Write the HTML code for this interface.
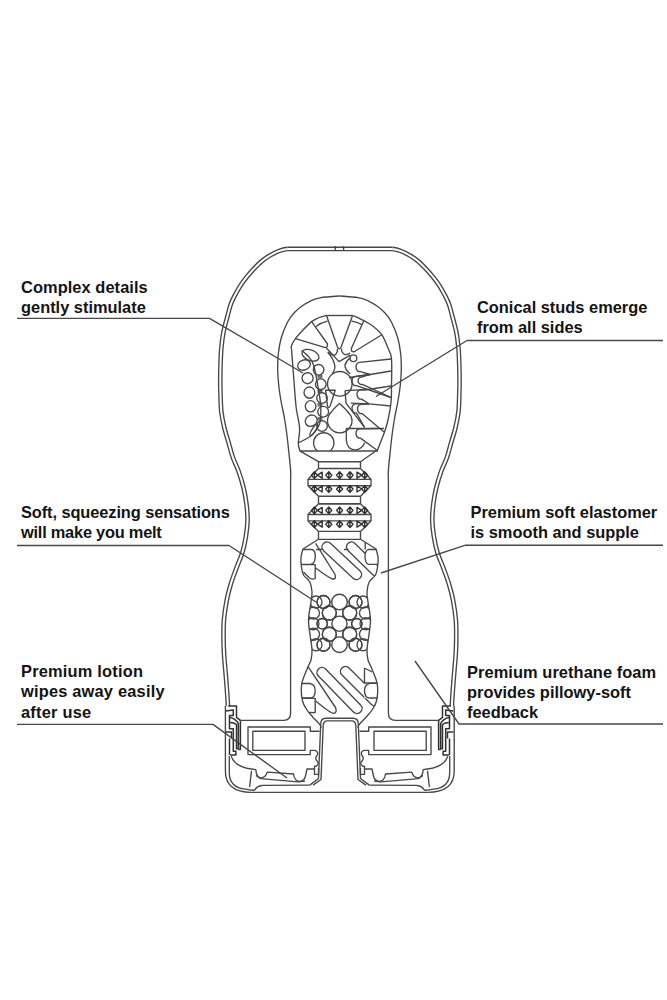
<!DOCTYPE html>
<html><head><meta charset="utf-8"><style>
html,body{margin:0;padding:0;background:#fff;width:667px;height:1000px;overflow:hidden}
svg{display:block}
path,circle,ellipse{fill:none;stroke:#474747;stroke-width:1.35;stroke-linejoin:round}
.st{stroke-width:1.4;stroke:#303030}
.cl{stroke-width:1.5;stroke:#303030}
.dk path{stroke:#474747;stroke-width:4.7}
.dw path{stroke:#fff;stroke-width:2.0}
text{font-family:"Liberation Sans",sans-serif;font-weight:bold;font-size:16.4px;fill:#141414}
</style></head><body>
<svg width="667" height="1000" viewBox="0 0 667 1000">
<defs><clipPath id="cu"><path d="M300,540 L365,540 L365,565 L378,565 L378,600 L300,600 Z"/></clipPath><clipPath id="cl"><path d="M300,660 L364.5,660 L364.5,698.3 L380,698.3 L380,720 L300,720 Z"/></clipPath><clipPath id="lc"><path d="M318.50,539.30 C315.92,540.92 305.92,546.05 303.00,549.00 C300.08,551.95 301.28,554.17 301.00,557.00 C300.72,559.83 300.88,563.00 301.30,566.00 C301.72,569.00 302.08,572.33 303.50,575.00 C304.92,577.67 308.38,579.17 309.80,582.00 C311.22,584.83 311.80,588.67 312.00,592.00 C312.20,595.33 311.58,597.33 311.00,602.00 C310.42,606.67 308.58,614.00 308.50,620.00 C308.42,626.00 309.92,633.00 310.50,638.00 C311.08,643.00 311.92,646.33 312.00,650.00 C312.08,653.67 311.75,657.00 311.00,660.00 C310.25,663.00 309.05,663.95 307.50,668.00 C305.95,672.05 302.55,678.88 301.70,684.30 C300.85,689.72 301.52,696.22 302.40,700.50 C303.28,704.78 305.32,707.30 307.00,710.00 C308.68,712.70 310.33,714.23 312.50,716.70 C314.67,719.17 318.58,722.92 320.00,724.80 C321.42,726.68 320.83,727.47 321.00,728.00 L358.00,728.00 L359.00,724.80 L366.50,716.70 L372.00,710.00 L376.60,700.50 L377.30,684.30 L371.50,668.00 L368.00,660.00 L367.00,650.00 L368.50,638.00 L370.50,620.00 L368.00,602.00 L367.00,592.00 L369.20,582.00 L375.50,575.00 L377.70,566.00 L378.00,557.00 L376.00,549.00 L360.50,539.30 Z"/></clipPath></defs>
<g class="dk"><path d="M287.27,248.94 C283.71,249.31 281.66,250.00 278.67,251.15 C275.68,252.30 272.27,254.06 269.35,255.81 C266.43,257.56 263.91,259.30 261.17,261.65 C258.43,264.00 255.47,267.16 252.91,269.92 C250.35,272.68 247.97,275.46 245.80,278.22 C243.63,280.98 241.87,283.32 239.90,286.47 C237.93,289.62 235.54,294.01 233.97,297.14 C232.40,300.27 231.57,301.93 230.46,305.23 C229.35,308.53 228.47,312.41 227.30,316.92 C226.13,321.43 224.41,327.11 223.42,332.31 C222.43,337.51 221.82,342.86 221.34,348.15 C220.86,353.44 220.73,358.75 220.55,364.06 C220.37,369.37 220.25,374.69 220.25,380.00 C220.25,385.31 220.37,390.64 220.55,395.94 C220.73,401.24 220.71,406.53 221.34,411.81 C221.97,417.09 223.05,422.33 224.31,427.62 C225.57,432.91 227.46,438.58 228.89,443.55 C230.31,448.52 231.23,452.80 232.86,457.45 C234.49,462.10 236.89,466.42 238.66,471.45 C240.43,476.48 242.20,482.22 243.50,487.61 C244.80,493.00 245.76,498.40 246.44,503.80 C247.12,509.20 247.64,514.62 247.55,520.03 C247.47,525.44 246.79,530.85 245.93,536.26 C245.07,541.67 243.99,547.09 242.38,552.47 C240.77,557.86 238.20,563.24 236.25,568.57 C234.30,573.90 232.27,579.18 230.68,584.47 C229.09,589.76 227.84,594.37 226.72,600.31 C225.60,606.25 224.47,613.86 223.94,620.14 C223.41,626.42 223.53,632.37 223.55,638.00 C223.57,643.63 223.75,648.60 224.05,653.91 C224.35,659.22 224.91,664.54 225.34,669.87 C225.77,675.20 226.25,680.54 226.65,685.88 C227.05,691.22 227.55,698.55 227.75,701.90 C227.95,705.25 227.83,705.28 227.85,705.96"/><path d="M392.53,248.94 C396.08,249.31 398.14,250.00 401.13,251.15 C404.12,252.30 407.53,254.06 410.45,255.81 C413.37,257.56 415.89,259.30 418.63,261.65 C421.37,264.00 424.33,267.16 426.89,269.92 C429.45,272.68 431.83,275.46 434.00,278.22 C436.17,280.98 437.93,283.32 439.90,286.47 C441.87,289.62 444.26,294.01 445.83,297.14 C447.40,300.27 448.23,301.93 449.34,305.23 C450.45,308.53 451.33,312.41 452.50,316.92 C453.67,321.43 455.39,327.11 456.38,332.31 C457.37,337.51 457.98,342.86 458.46,348.15 C458.94,353.44 459.07,358.75 459.25,364.06 C459.43,369.37 459.55,374.69 459.55,380.00 C459.55,385.31 459.43,390.64 459.25,395.94 C459.07,401.24 459.09,406.53 458.46,411.81 C457.83,417.09 456.75,422.33 455.49,427.62 C454.23,432.91 452.34,438.58 450.91,443.55 C449.49,448.52 448.57,452.80 446.94,457.45 C445.31,462.10 442.91,466.42 441.14,471.45 C439.37,476.48 437.60,482.22 436.30,487.61 C435.00,493.00 434.04,498.40 433.36,503.80 C432.69,509.20 432.17,514.62 432.25,520.03 C432.33,525.44 433.01,530.85 433.87,536.26 C434.73,541.67 435.81,547.09 437.42,552.47 C439.03,557.86 441.60,563.24 443.55,568.57 C445.50,573.90 447.53,579.18 449.12,584.47 C450.71,589.76 451.96,594.37 453.08,600.31 C454.20,606.25 455.33,613.86 455.86,620.14 C456.39,626.42 456.27,632.37 456.25,638.00 C456.23,643.63 456.05,648.60 455.75,653.91 C455.45,659.22 454.89,664.54 454.46,669.87 C454.03,675.20 453.55,680.54 453.15,685.88 C452.75,691.22 452.25,698.55 452.05,701.90 C451.85,705.25 451.97,705.28 451.95,705.96"/><path d="M287.27,248.95 L392.53,248.95"/></g><g class="dw"><path d="M287.27,248.94 C283.71,249.31 281.66,250.00 278.67,251.15 C275.68,252.30 272.27,254.06 269.35,255.81 C266.43,257.56 263.91,259.30 261.17,261.65 C258.43,264.00 255.47,267.16 252.91,269.92 C250.35,272.68 247.97,275.46 245.80,278.22 C243.63,280.98 241.87,283.32 239.90,286.47 C237.93,289.62 235.54,294.01 233.97,297.14 C232.40,300.27 231.57,301.93 230.46,305.23 C229.35,308.53 228.47,312.41 227.30,316.92 C226.13,321.43 224.41,327.11 223.42,332.31 C222.43,337.51 221.82,342.86 221.34,348.15 C220.86,353.44 220.73,358.75 220.55,364.06 C220.37,369.37 220.25,374.69 220.25,380.00 C220.25,385.31 220.37,390.64 220.55,395.94 C220.73,401.24 220.71,406.53 221.34,411.81 C221.97,417.09 223.05,422.33 224.31,427.62 C225.57,432.91 227.46,438.58 228.89,443.55 C230.31,448.52 231.23,452.80 232.86,457.45 C234.49,462.10 236.89,466.42 238.66,471.45 C240.43,476.48 242.20,482.22 243.50,487.61 C244.80,493.00 245.76,498.40 246.44,503.80 C247.12,509.20 247.64,514.62 247.55,520.03 C247.47,525.44 246.79,530.85 245.93,536.26 C245.07,541.67 243.99,547.09 242.38,552.47 C240.77,557.86 238.20,563.24 236.25,568.57 C234.30,573.90 232.27,579.18 230.68,584.47 C229.09,589.76 227.84,594.37 226.72,600.31 C225.60,606.25 224.47,613.86 223.94,620.14 C223.41,626.42 223.53,632.37 223.55,638.00 C223.57,643.63 223.75,648.60 224.05,653.91 C224.35,659.22 224.91,664.54 225.34,669.87 C225.77,675.20 226.25,680.54 226.65,685.88 C227.05,691.22 227.55,698.55 227.75,701.90 C227.95,705.25 227.83,705.28 227.85,705.96"/><path d="M392.53,248.94 C396.08,249.31 398.14,250.00 401.13,251.15 C404.12,252.30 407.53,254.06 410.45,255.81 C413.37,257.56 415.89,259.30 418.63,261.65 C421.37,264.00 424.33,267.16 426.89,269.92 C429.45,272.68 431.83,275.46 434.00,278.22 C436.17,280.98 437.93,283.32 439.90,286.47 C441.87,289.62 444.26,294.01 445.83,297.14 C447.40,300.27 448.23,301.93 449.34,305.23 C450.45,308.53 451.33,312.41 452.50,316.92 C453.67,321.43 455.39,327.11 456.38,332.31 C457.37,337.51 457.98,342.86 458.46,348.15 C458.94,353.44 459.07,358.75 459.25,364.06 C459.43,369.37 459.55,374.69 459.55,380.00 C459.55,385.31 459.43,390.64 459.25,395.94 C459.07,401.24 459.09,406.53 458.46,411.81 C457.83,417.09 456.75,422.33 455.49,427.62 C454.23,432.91 452.34,438.58 450.91,443.55 C449.49,448.52 448.57,452.80 446.94,457.45 C445.31,462.10 442.91,466.42 441.14,471.45 C439.37,476.48 437.60,482.22 436.30,487.61 C435.00,493.00 434.04,498.40 433.36,503.80 C432.69,509.20 432.17,514.62 432.25,520.03 C432.33,525.44 433.01,530.85 433.87,536.26 C434.73,541.67 435.81,547.09 437.42,552.47 C439.03,557.86 441.60,563.24 443.55,568.57 C445.50,573.90 447.53,579.18 449.12,584.47 C450.71,589.76 451.96,594.37 453.08,600.31 C454.20,606.25 455.33,613.86 455.86,620.14 C456.39,626.42 456.27,632.37 456.25,638.00 C456.23,643.63 456.05,648.60 455.75,653.91 C455.45,659.22 454.89,664.54 454.46,669.87 C454.03,675.20 453.55,680.54 453.15,685.88 C452.75,691.22 452.25,698.55 452.05,701.90 C451.85,705.25 451.97,705.28 451.95,705.96"/><path d="M287.27,248.95 L392.53,248.95"/></g>
<path d="M335.3,246 L335.3,251 M343.6,246 L343.6,251"/>
<path d="M339.50,296.00 C335.33,296.27 324.92,296.92 320.00,297.80 C315.08,298.68 313.00,299.93 310.00,301.30 C307.00,302.67 304.67,304.05 302.00,306.00 C299.33,307.95 296.40,310.33 294.00,313.00 C291.60,315.67 289.73,317.83 287.60,322.00 C285.47,326.17 282.75,332.67 281.20,338.00 C279.65,343.33 278.88,348.67 278.30,354.00 C277.72,359.33 277.62,364.67 277.70,370.00 C277.78,375.33 278.22,380.67 278.80,386.00 C279.38,391.33 280.27,396.67 281.20,402.00 C282.13,407.33 283.47,412.67 284.40,418.00 C285.33,423.33 286.10,428.67 286.80,434.00 C287.50,439.33 287.97,444.00 288.60,450.00 C289.23,456.00 290.27,465.00 290.60,470.00 C290.93,475.00 290.60,478.33 290.60,480.00 L290.60,713 Q290.60,720.4 283.60,720.4 L240.4,720.4"/>
<path d="M339.50,296.00 C343.67,296.27 354.08,296.92 359.00,297.80 C363.92,298.68 366.00,299.93 369.00,301.30 C372.00,302.67 374.33,304.05 377.00,306.00 C379.67,307.95 382.60,310.33 385.00,313.00 C387.40,315.67 389.27,317.83 391.40,322.00 C393.53,326.17 396.25,332.67 397.80,338.00 C399.35,343.33 400.12,348.67 400.70,354.00 C401.28,359.33 401.38,364.67 401.30,370.00 C401.22,375.33 400.78,380.67 400.20,386.00 C399.62,391.33 398.73,396.67 397.80,402.00 C396.87,407.33 395.53,412.67 394.60,418.00 C393.67,423.33 392.90,428.67 392.20,434.00 C391.50,439.33 391.03,444.00 390.40,450.00 C389.77,456.00 388.73,465.00 388.40,470.00 C388.07,475.00 388.40,478.33 388.40,480.00 L388.40,713 Q388.40,720.4 395.40,720.4 L438.6,720.4"/>
<path d="M300.00,451.00 C299.72,449.77 298.37,447.43 298.30,443.60 C298.23,439.77 299.90,433.60 299.60,428.00 C299.30,422.40 297.27,415.50 296.50,410.00 C295.73,404.50 295.50,400.83 295.00,395.00 C294.50,389.17 294.07,382.50 293.50,375.00 C292.93,367.50 291.95,354.83 291.60,350.00 C291.25,345.17 290.77,347.88 291.40,346.00 C292.03,344.12 293.47,341.37 295.40,338.70 C297.33,336.03 300.30,332.85 303.00,330.00 C305.70,327.15 309.10,323.60 311.60,321.60 C314.10,319.60 315.52,319.02 318.00,318.00 C320.48,316.98 325.08,315.92 326.50,315.50"/>
<path d="M326.5,315.5 L352.6,315.5"/>
<path d="M352.60,315.50 C354.47,316.37 360.23,318.78 363.80,320.70 C367.37,322.62 371.00,324.67 374.00,327.00 C377.00,329.33 379.47,331.20 381.80,334.70 C384.13,338.20 386.38,343.95 388.00,348.00 C389.62,352.05 390.92,352.83 391.50,359.00 C392.08,365.17 391.57,377.92 391.50,385.00 C391.43,392.08 391.68,395.67 391.10,401.50 C390.52,407.33 389.10,414.92 388.00,420.00 C386.90,425.08 386.32,426.83 384.50,432.00 C382.68,437.17 378.33,447.83 377.10,451.00"/>
<path d="M300,451 L378,451"/>
<path d="M326.5,315.5 L337.3,346.5 Q339.3,351 341.3,346.5 L352.6,315.5"/>
<path d="M311.6,321.6 L327.2,343.5 Q328.5,347.8 324.5,347.3 L295.4,338.7"/>
<path d="M363.8,320.7 L351.3,348.5 Q351,353 355,351.3 L381.8,334.7"/>
<path d="M316.1,326.6 Q321,322.5 327.6,321.2"/>
<path d="M351.5,321.2 Q357,322 362,324.6"/>
<path d="M326.2,347.7 L339,361.6 L350.2,355.2"/>
<path d="M337.5,348.5 Q337.5,353.7 334.5,355.2 Q331,355.5 328.1,351.9"/>
<path d="M341.4,348.5 Q341.6,353 344.5,354.5 Q348,355 350.2,353"/>
<path d="M327.7,352.2 Q333,358 334.5,364.2 Q336,368 332.2,374"/>
<path d="M350.6,357.5 Q346,361 345,365 Q344.5,369 350.2,374"/>
<circle cx="353.4" cy="358.2" r="3.4"/>
<circle cx="339.8" cy="383.8" r="12.3"/>
<path d="M339.5,403.5 Q332,410 328.5,416 A12.2,12.2 0 1 0 351,416 Q347,410 339.5,403.5 Z"/>
<path d="M391.00,359.00 L359.50,362.40 C354.00,362.90 355.50,372.60 360.50,371.60 L370.20,374.50"/>
<path d="M349,377.5 L370.2,374.5 L391,371"/>
<path d="M370.20,374.50 L355.50,376.40 C350.00,376.90 351.50,386.60 356.50,385.60 L391.00,397.50"/>
<path d="M370.20,374.40 L361.50,377.20 C356.00,377.70 357.50,385.40 362.50,384.40 L391.00,397.50"/>
<path d="M345,390.6 L368,389.5 L391,386"/>
<path d="M368.00,389.50 L360.50,389.90 C355.00,390.40 356.50,400.10 361.50,399.10 L369.00,403.80"/>
<path d="M369,403.8 L391,406"/>
<path d="M350.7,403.2 L369,403.8"/>
<path d="M369.00,403.80 L355.50,403.90 C350.00,404.40 351.50,414.10 356.50,413.10 L364.50,427.40"/>
<path d="M369.00,403.80 L361.00,404.40 C355.50,404.90 357.00,414.60 362.00,413.60 L384.00,432.00"/>
<path d="M345,390.6 L346,403.2 L364.5,427.4"/>
<path d="M346.3,428.5 L384,428.5"/>
<path d="M378.00,428.50 L359.50,428.90 C354.00,429.40 355.50,439.10 360.50,438.10 L377.00,450.30"/>
<path d="M346.3,428.3 L346.3,440 Q347,449.5 355,449.8 Q362,449.5 364.7,442.7"/>
<path d="M317.5,451 A10.2,10.2 0 1 1 330,451"/>
<path d="M325.6,390.2 L335.2,390.2 L330,406.5 Q328.5,409 327.5,406 Z"/>
<path d="M301.60,350.60 C302.67,351.50 306.00,353.60 308.00,356.00 C310.00,358.40 311.87,359.50 313.60,365.00 C315.33,370.50 317.20,382.00 318.40,389.00 C319.60,396.00 320.60,401.22 320.80,407.00 C321.00,412.78 321.00,419.12 319.60,423.70 C318.20,428.28 314.83,431.87 312.40,434.50 C309.97,437.13 307.40,438.08 305.00,439.50 C302.60,440.92 299.17,442.42 298.00,443.00"/>
<ellipse cx="304.0" cy="365.0" rx="6.5" ry="5.0" transform="rotate(-20 304.0 365.0)"/>
<ellipse cx="307.6" cy="378.2" rx="5.5" ry="5.5" transform="rotate(0 307.6 378.2)"/>
<ellipse cx="309.4" cy="392.6" rx="5.4" ry="5.6" transform="rotate(0 309.4 392.6)"/>
<ellipse cx="310.6" cy="406.3" rx="5.3" ry="5.6" transform="rotate(0 310.6 406.3)"/>
<ellipse cx="311.2" cy="420.7" rx="6.2" ry="5.4" transform="rotate(-35 311.2 420.7)"/>
<ellipse cx="313.8" cy="430" rx="6.5" ry="1.8" transform="rotate(-58 313.8 430)"/>
<ellipse cx="310.5" cy="355.2" rx="9" ry="5.2" transform="rotate(22 310.5 355.2)"/>
<circle cx="318.6" cy="369.8" r="5.3"/>
<circle cx="320.8" cy="384.2" r="5.3"/>
<circle cx="322.0" cy="398.0" r="5.3"/>
<circle cx="323.2" cy="411.7" r="5.4"/>
<circle cx="322.0" cy="426.0" r="5.3"/>
<path d="M317.5,376.0 L322.5,376.0 M317.5,377.8 L322.5,377.8"/>
<path d="M317.5,390.2 L322.5,390.2 M317.5,392.0 L322.5,392.0"/>
<path d="M317.5,404.0 L322.5,404.0 M317.5,405.8 L322.5,405.8"/>
<path d="M317.5,418.0 L322.5,418.0 M317.5,419.8 L322.5,419.8"/>
<path d="M299.70,450.80 L318.50,461.70 L360.50,461.70 L376.20,450.80"/>
<path d="M318.50,461.70 L318.50,468.50"/><path d="M360.50,461.70 L360.50,468.50"/>
<path d="M318.50,468.50 L308.00,479.30 L308.00,485.70 L318.50,496.20"/><path d="M360.50,468.50 L371.00,479.30 L371.00,485.70 L360.50,496.20"/><path d="M318.50,468.50 L360.50,468.50"/><path d="M308.00,479.30 L371.00,479.30"/><path d="M308.00,485.70 L371.00,485.70"/><path d="M318.50,496.20 L360.50,496.20"/><path d="M311.4,475.2 L314.4,471.8 L317.4,475.2 L314.4,478.6 Z M314.4,471.8 L314.4,478.6" class="st"/><path d="M317.4,475.2 L322.2,472.2 L322.2,478.2 Z" class="st"/><path d="M325.8,475.2 L328.8,471.8 L331.8,475.2 L328.8,478.6 Z M328.8,471.8 L328.8,478.6" class="st"/><path d="M336.6,475.2 L339.6,471.8 L342.6,475.2 L339.6,478.6 Z M339.6,471.8 L339.6,478.6" class="st"/><path d="M347.0,475.2 L350.0,471.8 L353.0,475.2 L350.0,478.6 Z M350.0,471.8 L350.0,478.6" class="st"/><path d="M361.8,475.2 L357.0,472.2 L357.0,478.2 Z" class="st"/><path d="M361.7,475.2 L364.7,471.8 L367.7,475.2 L364.7,478.6 Z M364.7,471.8 L364.7,478.6" class="st"/><path d="M311.4,489.0 L314.4,485.6 L317.4,489.0 L314.4,492.4 Z M314.4,485.6 L314.4,492.4" class="st"/><path d="M317.4,489.0 L322.2,486.0 L322.2,492.0 Z" class="st"/><path d="M325.8,489.0 L328.8,485.6 L331.8,489.0 L328.8,492.4 Z M328.8,485.6 L328.8,492.4" class="st"/><path d="M336.6,489.0 L339.6,485.6 L342.6,489.0 L339.6,492.4 Z M339.6,485.6 L339.6,492.4" class="st"/><path d="M347.0,489.0 L350.0,485.6 L353.0,489.0 L350.0,492.4 Z M350.0,485.6 L350.0,492.4" class="st"/><path d="M361.8,489.0 L357.0,486.0 L357.0,492.0 Z" class="st"/><path d="M361.7,489.0 L364.7,485.6 L367.7,489.0 L364.7,492.4 Z M364.7,485.6 L364.7,492.4" class="st"/>
<path d="M318.50,496.20 L318.50,503.70"/><path d="M360.50,496.20 L360.50,503.70"/>
<path d="M318.50,503.70 L360.50,503.70"/>
<path d="M318.50,503.70 L308.00,514.50 L308.00,520.90 L318.50,531.40"/><path d="M360.50,503.70 L371.00,514.50 L371.00,520.90 L360.50,531.40"/><path d="M318.50,503.70 L360.50,503.70"/><path d="M308.00,514.50 L371.00,514.50"/><path d="M308.00,520.90 L371.00,520.90"/><path d="M318.50,531.40 L360.50,531.40"/><path d="M311.4,510.4 L314.4,507.0 L317.4,510.4 L314.4,513.8 Z M314.4,507.0 L314.4,513.8" class="st"/><path d="M317.4,510.4 L322.2,507.4 L322.2,513.4 Z" class="st"/><path d="M325.8,510.4 L328.8,507.0 L331.8,510.4 L328.8,513.8 Z M328.8,507.0 L328.8,513.8" class="st"/><path d="M336.6,510.4 L339.6,507.0 L342.6,510.4 L339.6,513.8 Z M339.6,507.0 L339.6,513.8" class="st"/><path d="M347.0,510.4 L350.0,507.0 L353.0,510.4 L350.0,513.8 Z M350.0,507.0 L350.0,513.8" class="st"/><path d="M361.8,510.4 L357.0,507.4 L357.0,513.4 Z" class="st"/><path d="M361.7,510.4 L364.7,507.0 L367.7,510.4 L364.7,513.8 Z M364.7,507.0 L364.7,513.8" class="st"/><path d="M311.4,524.2 L314.4,520.8 L317.4,524.2 L314.4,527.6 Z M314.4,520.8 L314.4,527.6" class="st"/><path d="M317.4,524.2 L322.2,521.2 L322.2,527.2 Z" class="st"/><path d="M325.8,524.2 L328.8,520.8 L331.8,524.2 L328.8,527.6 Z M328.8,520.8 L328.8,527.6" class="st"/><path d="M336.6,524.2 L339.6,520.8 L342.6,524.2 L339.6,527.6 Z M339.6,520.8 L339.6,527.6" class="st"/><path d="M347.0,524.2 L350.0,520.8 L353.0,524.2 L350.0,527.6 Z M350.0,520.8 L350.0,527.6" class="st"/><path d="M361.8,524.2 L357.0,521.2 L357.0,527.2 Z" class="st"/><path d="M361.7,524.2 L364.7,520.8 L367.7,524.2 L364.7,527.6 Z M364.7,520.8 L364.7,527.6" class="st"/>
<path d="M318.50,531.40 L318.50,539.30"/><path d="M360.50,531.40 L360.50,539.30"/>
<path d="M318.50,539.30 L360.50,539.30"/>
<path d="M318.50,539.30 L303.00,549.00 C302.67,550.33 301.28,554.17 301.00,557.00 C300.72,559.83 300.88,563.00 301.30,566.00 C301.72,569.00 302.08,572.33 303.50,575.00 C304.92,577.67 308.38,579.17 309.80,582.00 C311.22,584.83 311.80,588.67 312.00,592.00 C312.20,595.33 311.58,597.33 311.00,602.00 C310.42,606.67 308.58,614.00 308.50,620.00 C308.42,626.00 309.92,633.00 310.50,638.00 C311.08,643.00 311.92,646.33 312.00,650.00 C312.08,653.67 311.75,657.00 311.00,660.00 C310.25,663.00 309.05,663.95 307.50,668.00 C305.95,672.05 302.55,678.88 301.70,684.30 C300.85,689.72 301.52,696.22 302.40,700.50 C303.28,704.78 305.32,707.30 307.00,710.00 C308.68,712.70 310.33,714.23 312.50,716.70 C314.67,719.17 318.58,722.92 320.00,724.80 C321.42,726.68 320.83,727.47 321.00,728.00"/>
<path d="M360.50,539.30 L376.00,549.00 C376.33,550.33 377.72,554.17 378.00,557.00 C378.28,559.83 378.12,563.00 377.70,566.00 C377.28,569.00 376.92,572.33 375.50,575.00 C374.08,577.67 370.62,579.17 369.20,582.00 C367.78,584.83 367.20,588.67 367.00,592.00 C366.80,595.33 367.42,597.33 368.00,602.00 C368.58,606.67 370.42,614.00 370.50,620.00 C370.58,626.00 369.08,633.00 368.50,638.00 C367.92,643.00 367.08,646.33 367.00,650.00 C366.92,653.67 367.25,657.00 368.00,660.00 C368.75,663.00 369.95,663.95 371.50,668.00 C373.05,672.05 376.45,678.88 377.30,684.30 C378.15,689.72 377.48,696.22 376.60,700.50 C375.72,704.78 373.68,707.30 372.00,710.00 C370.32,712.70 368.67,714.23 366.50,716.70 C364.33,719.17 360.42,722.92 359.00,724.80 C357.58,726.68 358.17,727.47 358.00,728.00"/>
<path d="M303,549.5 L312,549.5 Q315.5,550.5 315.3,557 Q315,564.3 310,564.3 L301.3,564.3"/>
<path d="M301.3,564.6 L315.2,564.6 L315.2,578.5 Q313,580 309.5,578 L303.5,572"/>
<path d="M376.5,549.5 L368,549.5 Q365,551 365,557 Q365.5,564.3 369,564.3 L377.8,564.3"/>
<path d="M365.2,542 L365.2,549.5"/>
<path d="M316,549.5 L322,549.5 M344,549.5 L348.5,549.5"/>
<path d="M315.6,543.4 L334.8,574 Q337,579.3 332.5,579 Q329,578 315.3,567.8"/>
<path d="M323.59,550.66 L353.09,578.16 C357.95,582.69 364.77,575.38 359.91,570.84 L330.41,543.34 C325.55,538.81 318.73,546.12 323.59,550.66 Z"/>
<g clip-path="url(#lc)"><g clip-path="url(#cu)"><path d="M348.00,550.57 L372.50,574.57 C377.25,579.23 384.25,572.08 379.50,567.43 L355.00,543.43 C350.25,538.77 343.25,545.92 348.00,550.57 Z"/></g></g>
<g clip-path="url(#lc)"><circle cx="339.5" cy="602.0" r="7.8"/><circle cx="323.5" cy="602.0" r="6.5"/><circle cx="355.5" cy="602.0" r="6.5"/><circle cx="355.5" cy="602.0" r="6.5"/><circle cx="323.5" cy="602.0" r="6.5"/><circle cx="316.0" cy="602.0" r="6.0"/><circle cx="363.0" cy="602.0" r="6.0"/><circle cx="329.3" cy="613.0" r="7.0"/><circle cx="349.7" cy="613.0" r="7.0"/><circle cx="349.7" cy="613.0" r="7.0"/><circle cx="329.3" cy="613.0" r="7.0"/><circle cx="313.5" cy="613.0" r="6.0"/><circle cx="365.5" cy="613.0" r="6.0"/><circle cx="339.5" cy="623.7" r="7.6"/><circle cx="322.2" cy="623.7" r="5.2"/><circle cx="356.8" cy="623.7" r="5.2"/><circle cx="356.8" cy="623.7" r="5.2"/><circle cx="322.2" cy="623.7" r="5.2"/><circle cx="313.0" cy="623.7" r="6.0"/><circle cx="366.0" cy="623.7" r="6.0"/><circle cx="329.3" cy="634.2" r="7.0"/><circle cx="349.7" cy="634.2" r="7.0"/><circle cx="349.7" cy="634.2" r="7.0"/><circle cx="329.3" cy="634.2" r="7.0"/><circle cx="313.5" cy="634.2" r="6.0"/><circle cx="365.5" cy="634.2" r="6.0"/><circle cx="339.5" cy="644.7" r="7.8"/><circle cx="323.5" cy="644.7" r="6.5"/><circle cx="355.5" cy="644.7" r="6.5"/><circle cx="355.5" cy="644.7" r="6.5"/><circle cx="323.5" cy="644.7" r="6.5"/><circle cx="316.0" cy="644.7" r="6.0"/><circle cx="363.0" cy="644.7" r="6.0"/></g>
<path d="M308.4,667.2 L335.5,707.5 Q337.5,713 333.5,713.4 Q330,713 315.4,700.8"/>
<path d="M318.42,675.99 L353.42,711.99 C358.05,716.75 365.22,709.78 360.58,705.01 L325.58,669.01 C320.95,664.25 313.78,671.22 318.42,675.99 Z"/>
<g clip-path="url(#lc)"><g clip-path="url(#cl)"><path d="M341.96,675.04 L371.46,704.54 C376.17,709.24 383.24,702.17 378.54,697.46 L349.04,667.96 C344.33,663.26 337.26,670.33 341.96,675.04 Z"/></g></g>
<path d="M301.5,683.5 L310,683.5 Q315.2,684.5 315.2,690.5 Q315.2,698 310,698 L302.2,698"/>
<path d="M302.2,698.3 L315.2,698.3 L315.2,712.6 L309,712.5"/>
<path d="M364.5,668 L364.5,683 L377,683 M364.5,668 L372,672"/>
<path d="M377.5,683.3 L370,683.3 Q364.5,684.5 364.5,690.5 Q364.5,698 370,698 L377.8,698"/>
<path d="M319.5,731.2 L310.3,731.2 L310.3,727 L248,727 L248,754.6 L310.3,754.6 L310.3,750.4 L315,750.4"/>
<g transform="translate(679,0) scale(-1,1)"><path d="M319.5,731.2 L310.3,731.2 L310.3,727 L248,727 L248,754.6 L310.3,754.6 L310.3,750.4 L315,750.4"/></g>
<path d="M252.8,731.2 L305,731.2 L305,750.4 L252.8,750.4 Z"/>
<g transform="translate(679,0) scale(-1,1)"><path d="M252.8,731.2 L305,731.2 L305,750.4 L252.8,750.4 Z"/></g>
<path d="M315,750.4 Q319,752 317,755.5 Q314.5,758 317,761 Q319.5,764 316.5,766 L314.5,766.5 L314.5,769"/>
<g transform="translate(679,0) scale(-1,1)"><path d="M315,750.4 Q319,752 317,755.5 Q314.5,758 317,761 Q319.5,764 316.5,766 L314.5,766.5 L314.5,769"/></g>
<path d="M231.2,756.2 Q235,767 251.5,769 L255.8,769.6 Q256.5,777.8 261,777.9 Q265.8,777.6 267.2,772.2 L293.5,774 Q294.5,781 299.5,781.5 Q304.5,781 305.5,776 L307,769 L314.5,769 L314.5,774.4 L318.5,774.4 L318.5,768"/>
<g transform="translate(679,0) scale(-1,1)"><path d="M231.2,756.2 Q235,767 251.5,769 L255.8,769.6 Q256.5,777.8 261,777.9 Q265.8,777.6 267.2,772.2 L293.5,774 Q294.5,781 299.5,781.5 Q304.5,781 305.5,776 L307,769 L314.5,769 L314.5,774.4 L318.5,774.4 L318.5,768"/></g>
<path d="M256,775.5 L260.6,778.6 L298,781.8 L305,781.2"/>
<g transform="translate(679,0) scale(-1,1)"><path d="M256,775.5 L260.6,778.6 L298,781.8 L305,781.2"/></g>
<path d="M251.5,770.9 L249.6,787"/>
<g transform="translate(679,0) scale(-1,1)"><path d="M251.5,770.9 L249.6,787"/></g>
<path d="M229.3,756 L229.3,773 Q229.5,787.5 245.5,789.2 Q251,790.5 254.5,790.2 Q257,786 262,785.5"/>
<g transform="translate(679,0) scale(-1,1)"><path d="M229.3,756 L229.3,773 Q229.5,787.5 245.5,789.2 Q251,790.5 254.5,790.2 Q257,786 262,785.5"/></g>
<path d="M262,785.3 L309.7,785.1"/>
<g transform="translate(679,0) scale(-1,1)"><path d="M262,785.3 L309.7,785.1"/></g>
<path d="M228.2,706.1 L236.5,706.1 L236.5,717.3 L240.4,720.4" class="cl"/>
<g transform="translate(679,0) scale(-1,1)"><path d="M228.2,706.1 L236.5,706.1 L236.5,717.3 L240.4,720.4" class="cl"/></g>
<path d="M225.6,710.9 L233.3,709.9 L233.3,715.4 L229.5,715.4 L229.5,728.8 L233.3,728.8 L233.3,751.3 L235.9,751.3 L235.9,755.1 L230.1,755.1" class="cl"/>
<g transform="translate(679,0) scale(-1,1)"><path d="M225.6,710.9 L233.3,709.9 L233.3,715.4 L229.5,715.4 L229.5,728.8 L233.3,728.8 L233.3,751.3 L235.9,751.3 L235.9,755.1 L230.1,755.1" class="cl"/></g>
<path d="M229.5,717.3 Q235.5,718.5 238.4,723.7 L238.4,748.7 L236.5,748.7 L236.5,724.5 Q234,722.5 230.1,722.4" class="cl"/>
<g transform="translate(679,0) scale(-1,1)"><path d="M229.5,717.3 Q235.5,718.5 238.4,723.7 L238.4,748.7 L236.5,748.7 L236.5,724.5 Q234,722.5 230.1,722.4" class="cl"/></g>
<path d="M240.4,720.4 L240.4,749.4 L238.4,749.4" class="cl"/>
<g transform="translate(679,0) scale(-1,1)"><path d="M240.4,720.4 L240.4,749.4 L238.4,749.4" class="cl"/></g>
<path d="M225.6,732 L231.5,732 L231.5,738.5" class="cl"/>
<g transform="translate(679,0) scale(-1,1)"><path d="M225.6,732 L231.5,732 L231.5,738.5" class="cl"/></g>
<path d="M229.5,738.5 L229.5,755" class="cl"/>
<g transform="translate(679,0) scale(-1,1)"><path d="M229.5,738.5 L229.5,755" class="cl"/></g>
<path d="M309.7,785.1 L318.5,778.5 L320.7,724 Q320.7,718.2 326,718.2 L353,718.2 Q358.3,718.2 358.3,724 L360.5,778.5 L369.3,785.1"/>
<path d="M313,785.1 L321,779.5 L323.2,725.5 Q323.2,720.8 327.5,720.8 L351.5,720.8 Q355.8,720.8 355.8,725.5 L358,779.5 L366,785.1"/>
<path d="M225.4,706 L225.4,771 Q225.4,792.3 251.3,792.3 L427.7,792.3 Q454.2,792.3 454.2,771 L454.2,706"/>
<path d="M17,318.3 L209.5,318.3 L303,373" class="ld"/>
<path d="M663,340.5 L467,340.5 L376,396.5" class="ld"/>
<path d="M17,545.5 L229,545.5 L316,602" class="ld"/>
<path d="M663,545.2 L465.6,545.2 L381,573" class="ld"/>
<path d="M17,724.4 L213,724.4 L287,778" class="ld"/>
<path d="M663,724 L459,724 L415,661" class="ld"/>
<text x="21" y="292.8" textLength="126.70" lengthAdjust="spacing">Complex details</text>
<text x="21" y="312.8">gently stimulate</text>
<text x="477" y="313.2">Conical studs emerge</text>
<text x="477" y="333.2">from all sides</text>
<text x="21" y="517.8" textLength="208.90" lengthAdjust="spacing">Soft, squeezing sensations</text>
<text x="21" y="537.8" textLength="140.84" lengthAdjust="spacing">will make you melt</text>
<text x="470.5" y="517.6">Premium soft elastomer</text>
<text x="470.5" y="537.6">is smooth and supple</text>
<text x="21" y="677.2" textLength="122.00" lengthAdjust="spacing">Premium lotion</text>
<text x="21" y="697.4" textLength="143.53" lengthAdjust="spacing">wipes away easily</text>
<text x="21" y="717.6" textLength="70.13" lengthAdjust="spacing">after use</text>
<text x="467" y="677.6" textLength="189.14" lengthAdjust="spacing">Premium urethane foam</text>
<text x="467" y="697.8">provides pillowy-soft</text>
<text x="467" y="718">feedback</text>
</svg>
</body></html>
